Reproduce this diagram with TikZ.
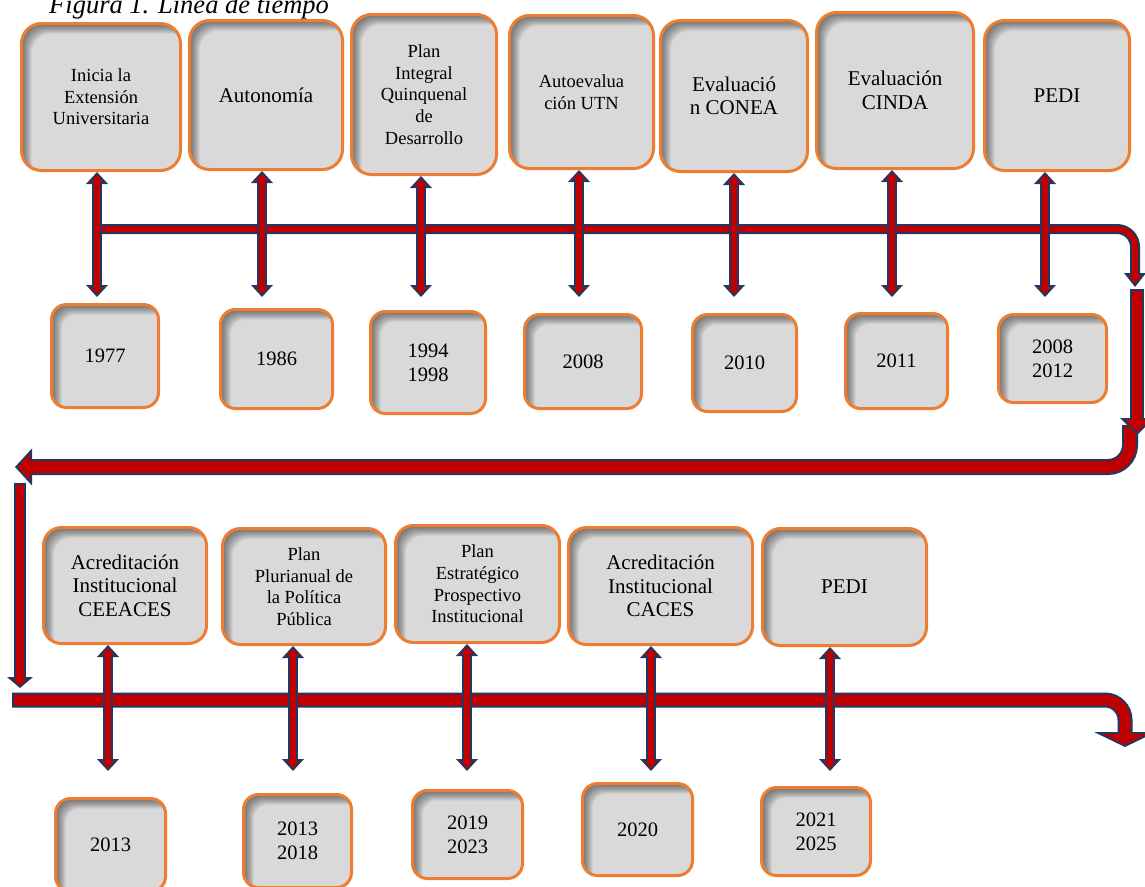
\documentclass[tikz,border=0pt]{standalone}
\usepackage{fontspec}
\setmainfont{Liberation Serif}
\usetikzlibrary{arrows.meta}
\usepackage{xcolor}
\definecolor{arrowred}{HTML}{C00000}
\definecolor{arrownavy}{HTML}{1F3864}
\definecolor{boxgray}{HTML}{D9D9D9}
\definecolor{boxorange}{HTML}{ED7D31}
\tikzset{inset shadow/.style={path picture={
           \foreach \s in {1,...,10}
             \fill[sharp corners, black, opacity=0.06, even odd rule]
               ([shift={(-3pt,3pt)}]path picture bounding box.north west) rectangle ([shift={(3pt,-3pt)}]path picture bounding box.south east)
               [rounded corners=#1]
               ([shift={(\s*1pt,-\s*1pt)}]path picture bounding box.north west) rectangle ([shift={(\s*1pt,-\s*1pt)}]path picture bounding box.south east);}},
         evbox/.style={draw=boxorange, line width=3pt, fill=boxgray, rounded corners=20pt,
                       align=center, inner sep=0pt, inset shadow=20pt},
         yrbox/.style={evbox, rounded corners=15pt, inset shadow=15pt, font=\fontsize{20.5}{24}\selectfont},
         smalltxt/.style={font=\fontsize{18.5}{21.6}\selectfont},
         bigtxt/.style={font=\fontsize{21}{23.6}\selectfont},
         blockarrow/.style n args={7}{draw=arrownavy, line width=#1,
                       -{Triangle[width=#3,length=#4,line width=0pt]},
                       postaction={draw=arrowred, line width=#2, shorten <=2pt, shorten >=#7,
                       -{Triangle[width=#5,length=#6,line width=0pt]}}},
         dblarrow/.style={draw=arrownavy, line width=10pt,
                       {Triangle[width=22pt,length=12pt,line width=0pt]}-{Triangle[width=22pt,length=12pt,line width=0pt]},
                       postaction={draw=arrowred, line width=6pt, shorten <=3pt, shorten >=3pt,
                       {Triangle[width=13pt,length=7pt,line width=0pt]}-{Triangle[width=13pt,length=7pt,line width=0pt]}}}}

\begin{document}
\begin{tikzpicture}[x=1pt, y=-1pt]
        \useasboundingbox (0,0) rectangle (1145,886);
        \clip (0,0) rectangle (1145,886);

        % Caption
        \node[anchor=base west, inner sep=0pt, font=\itshape\fontsize{26.5}{29}\selectfont] (caption) at (49,13.5) {Figura 1. Línea de tiempo};

        % Nodes, first row
        \node[evbox, smalltxt, minimum width=159pt, minimum height=147pt] (ev1) at (101,97) {Inicia la\\Extensión\\Universitaria};
        \node[evbox, bigtxt, minimum width=153pt, minimum height=149pt] (ev2) at (266,95) {Autonomía};
        \node[evbox, smalltxt, minimum width=145pt, minimum height=160pt] (ev3) at (424,94.5) {Plan\\Integral\\Quinquenal\\de\\Desarrollo};
        \node[evbox, smalltxt, minimum width=144pt, minimum height=153pt] (ev4) at (581.5,92) {Autoevalua\\ción UTN};
        \node[evbox, bigtxt, minimum width=147pt, minimum height=151pt] (ev5) at (734,96) {Evaluació\\n CONEA};
        \node[evbox, bigtxt, minimum width=157pt, minimum height=156pt] (ev6) at (895,90.5) {Evaluación\\CINDA};
        \node[evbox, bigtxt, minimum width=145pt, minimum height=150pt] (ev7) at (1057,95.5) {PEDI};

        \node[yrbox, minimum width=107pt, minimum height=103pt] (yr1) at (105,356) {1977};
        \node[yrbox, minimum width=112pt, minimum height=99pt] (yr2) at (276.5,359) {1986};
        \node[yrbox, minimum width=115pt, minimum height=102pt] (yr3) at (428,362.5) {1994\\1998};
        \node[yrbox, minimum width=117pt, minimum height=94pt] (yr4) at (583,361.5) {2008};
        \node[yrbox, minimum width=104pt, minimum height=97pt] (yr5) at (744.5,363) {2010};
        \node[yrbox, minimum width=102pt, minimum height=95pt] (yr6) at (896.5,361) {2011};
        \node[yrbox, minimum width=108pt, minimum height=88pt] (yr7) at (1052.5,358.5) {2008\\2012};

        % Nodes, second row
        \node[evbox, bigtxt, rounded corners=18pt, inset shadow=18pt, minimum width=163pt, minimum height=116pt] (ev8) at (125,585.5) {Acreditación\\Institucional\\CEEACES};
        \node[evbox, smalltxt, rounded corners=18pt, inset shadow=18pt, minimum width=163pt, minimum height=116pt] (ev9) at (304,586.5) {Plan\\Plurianual de\\la Política\\Pública};
        \node[evbox, smalltxt, rounded corners=18pt, inset shadow=18pt, minimum width=164pt, minimum height=117pt] (ev10) at (477.5,584) {Plan\\Estratégico\\Prospectivo\\Institucional};
        \node[evbox, bigtxt, rounded corners=18pt, inset shadow=18pt, minimum width=184pt, minimum height=117pt] (ev11) at (660.5,586) {Acreditación\\Institucional\\CACES};
        \node[evbox, bigtxt, rounded corners=18pt, inset shadow=18pt, minimum width=164pt, minimum height=117pt] (ev12) at (844.5,587) {PEDI};

        \node[yrbox, minimum width=110pt, minimum height=93pt] (yr8) at (110.5,845) {2013};
        \node[yrbox, minimum width=108pt, minimum height=93pt] (yr9) at (297.5,841) {2013\\2018};
        \node[yrbox, minimum width=110pt, minimum height=88pt] (yr10) at (467.5,834.5) {2019\\2023};
        \node[yrbox, minimum width=110pt, minimum height=92pt] (yr11) at (637.5,829.5) {2020};
        \node[yrbox, minimum width=109pt, minimum height=88pt] (yr12) at (816,831.5) {2021\\2025};

        % Timeline
        \coordinate (tl1a) at (97,229);
        \coordinate (tl1b) at (1135,287);
        \coordinate (tl2a) at (1137,289);
        \coordinate (tl2b) at (1137,435);
        \coordinate (tl3a) at (1130,425);
        \coordinate (tl3b) at (15,467);
        \coordinate (tl4a) at (20,483);
        \coordinate (tl4b) at (20,688);
        \coordinate (tl5a) at (12,700);
        \coordinate (tl5b) at (1125,747);
        \coordinate (row1) at (0,297);
        \coordinate (row2) at (0,771);

        \draw[blockarrow={10pt}{6pt}{22pt}{14pt}{13.8pt}{8.8pt}{3.3pt}, rounded corners=18pt] (tl1a) -| (tl1b);
        \draw[blockarrow={16pt}{12pt}{37pt}{17pt}{26.7pt}{12.3pt}{2.7pt}, rounded corners=22pt] (tl3a) |- (tl3b);
        \draw[blockarrow={14pt}{10pt}{34pt}{17pt}{24.4pt}{12.2pt}{2.8pt}] (tl2a) -- (tl2b);
        \draw[blockarrow={12pt}{8pt}{26pt}{11pt}{15.1pt}{6.4pt}{2.6pt}] (tl4a) -- (tl4b);
        \draw[blockarrow={15pt}{11pt}{62pt}{15pt}{44.6pt}{10.8pt}{2.2pt}, rounded corners=20pt] (tl5a) -| (tl5b);

        % Edges
        \draw[dblarrow] ([xshift=-4pt]ev1.south) -- ([xshift=-4pt]ev1.south |- row1);
        \draw[dblarrow] ([xshift=-4pt]ev2.south) -- ([xshift=-4pt]ev2.south |- row1);
        \draw[dblarrow] ([xshift=-3pt]ev3.south) -- ([xshift=-3pt]ev3.south |- row1);
        \draw[dblarrow] ([xshift=-2.5pt]ev4.south) -- ([xshift=-2.5pt]ev4.south |- row1);
        \draw[dblarrow] (ev5.south) -- (ev5.south |- row1);
        \draw[dblarrow] ([xshift=-3pt]ev6.south) -- ([xshift=-3pt]ev6.south |- row1);
        \draw[dblarrow] ([xshift=-12pt]ev7.south) -- ([xshift=-12pt]ev7.south |- row1);

        \draw[dblarrow] ([xshift=-17pt]ev8.south) -- ([xshift=-17pt]ev8.south |- row2);
        \draw[dblarrow] ([xshift=-11pt]ev9.south) -- ([xshift=-11pt]ev9.south |- row2);
        \draw[dblarrow] ([xshift=-10.5pt]ev10.south) -- ([xshift=-10.5pt]ev10.south |- row2);
        \draw[dblarrow] ([xshift=-9.5pt]ev11.south) -- ([xshift=-9.5pt]ev11.south |- row2);
        \draw[dblarrow] ([xshift=-14.5pt]ev12.south) -- ([xshift=-14.5pt]ev12.south |- row2);

    \end{tikzpicture}
\end{document}
